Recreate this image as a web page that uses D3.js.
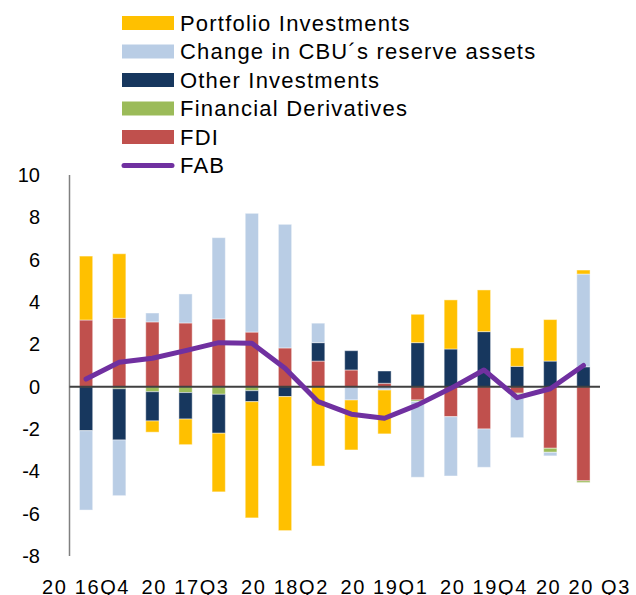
<!DOCTYPE html>
<html>
<head>
<meta charset="utf-8">
<style>
	body { margin: 0; background: #fff; font-family: "Liberation Sans", Arial, sans-serif; }
	svg { display: block; }
</style>
<title>Financial account balance</title>
</head>
<body>
<script src="https://cdn.jsdelivr.net/npm/d3@7"></script>
<script>

// quarters on the x axis
var quarters = ["2016Q4", "2017Q1", "2017Q2", "2017Q3", "2017Q4", "2018Q1", "2018Q2", "2018Q3",
	"2018Q4", "2019Q1", "2019Q2", "2019Q3", "2019Q4", "2020Q1", "2020Q2", "2020Q3"];

// labelled quarters and the text shown under them
var labelQuarters = ["2016Q4", "2017Q3", "2018Q2", "2019Q1", "2019Q4", "2020Q3"];
var labelTexts = ["20 16Q4", "20 17Q3", "20 18Q2", "20 19Q1", "20 19Q4", "20 20 Q3"];

var yTicks = [-8, -6, -4, -2, 0, 2, 4, 6, 8, 10];

// series values
var fdi         = [3.15, 3.23, 3.06, 3.01, 3.20, 2.58, 1.83, 1.21, 0.79, 0.16, -0.63, -1.42, -2.00, -0.31, -2.91, -4.45];
var derivatives = [0, -0.10, -0.24, -0.28, -0.36, -0.19, 0, 0, 0, 0, -0.07, 0, 0, -0.05, -0.19, -0.08];
var otherInv    = [-2.08, -2.42, -1.38, -1.25, -1.84, -0.52, -0.47, 0.87, 0.91, 0.58, 2.08, 1.78, 2.60, 0.96, 1.21, 0.94];
var reserves    = [-3.75, -2.63, 0.42, 1.37, 3.84, 5.61, 5.84, 0.92, -0.63, -0.16, -3.58, -2.80, -1.81, -2.05, -0.17, 4.38];
var portfolio   = [3.02, 3.05, -0.53, -1.21, -2.77, -5.49, -6.33, -3.75, -2.36, -2.07, 1.34, 2.32, 1.97, 0.87, 1.96, 0.19];
var fab         = [0.36, 1.15, 1.34, 1.70, 2.08, 2.05, 0.87, -0.71, -1.30, -1.49, -0.86, -0.08, 0.79, -0.52, -0.10, 1.00];

// stacking order is bottom-up; legend is shown top-down
var keys = ["fdi", "derivatives", "otherInv", "reserves", "portfolio"];
var names = {
	portfolio: "Portfolio Investments",
	reserves: "Change in CBU\u00b4s reserve assets",
	otherInv: "Other Investments",
	derivatives: "Financial Derivatives",
	fdi: "FDI"
};
var colors = {
	portfolio: "#ffc000",
	reserves: "#b9cde5",
	otherInv: "#17375e",
	derivatives: "#9bbb59",
	fdi: "#c0504d"
};
var fabColor = "#7030a0";

var table = quarters.map((q, i) => ({
	q: q,
	fdi: fdi[i],
	derivatives: derivatives[i],
	otherInv: otherInv[i],
	reserves: reserves[i],
	portfolio: portfolio[i],
	fab: fab[i]
}));

var width = 636, height = 595;

var x = d3.scaleBand()
	.domain(quarters)
	.range([69.5, 600])
	.paddingInner(0.6)
	.paddingOuter(0.3);

var y = d3.scaleLinear()
	.domain([-8, 10])
	.range([556, 175]);

var svg = d3.select("body").append("svg")
	.attr("width", width)
	.attr("height", height);

var series = d3.stack()
	.keys(keys)
	.offset(d3.stackOffsetDiverging)(table);

svg.append("g").selectAll("g")
	.data(series)
	.join("g")
		.attr("fill", s => colors[s.key])
	.selectAll("rect")
	.data(s => s)
	.join("rect")
		.attr("x", d => x(d.data.q))
		.attr("width", x.bandwidth())
		.attr("y", d => y(Math.max(d[0], d[1])))
		.attr("height", d => Math.abs(y(d[0]) - y(d[1])))
		.attr("stroke", "#fff")
		.attr("stroke-opacity", 0.45)
		.attr("stroke-width", 1);

// y axis: line and labels, no ticks
svg.append("line")
	.attr("x1", 69.5).attr("x2", 69.5)
	.attr("y1", y(10)).attr("y2", y(-8))
	.attr("stroke", "#808080")
	.attr("stroke-width", 1.5);

svg.append("g").selectAll("text")
	.data(yTicks)
	.join("text")
		.attr("x", 40)
		.attr("y", d => y(d))
		.attr("dy", "0.35em")
		.attr("text-anchor", "end")
		.attr("font-size", 20)
		.attr("fill", "#000")
		.text(d => d);

// zero line across the plot
svg.append("line")
	.attr("x1", 69.5).attr("x2", 600)
	.attr("y1", y(0)).attr("y2", y(0))
	.attr("stroke", "#404040")
	.attr("stroke-width", 2);

svg.append("path")
	.datum(table)
	.attr("fill", "none")
	.attr("stroke", fabColor)
	.attr("stroke-width", 5)
	.attr("stroke-linejoin", "round")
	.attr("stroke-linecap", "round")
	.attr("d", d3.line()
		.x(d => x(d.q) + x.bandwidth() / 2)
		.y(d => y(d.fab)));

// x labels (cut by the bottom edge as in the source)
svg.append("g").selectAll("text")
	.data(labelQuarters)
	.join("text")
		.attr("x", d => x(d) + x.bandwidth() / 2)
		.attr("y", 594)
		.attr("text-anchor", "middle")
		.attr("font-size", 20)
		.attr("letter-spacing", 1.6)
		.attr("fill", "#000")
		.text((d, i) => labelTexts[i]);

// legend
var legendKeys = ["portfolio", "reserves", "otherInv", "derivatives", "fdi", "fab"];
var legend = svg.append("g").selectAll("g")
	.data(legendKeys)
	.join("g")
		.attr("transform", (d, i) => `translate(0,${23 + i * 28.5})`);

legend.filter(d => d != "fab").append("rect")
	.attr("x", 122)
	.attr("y", -7)
	.attr("width", 52)
	.attr("height", 14)
	.attr("fill", d => colors[d]);

legend.filter(d => d == "fab").append("line")
	.attr("x1", 124).attr("x2", 172)
	.attr("stroke", fabColor)
	.attr("stroke-width", 5)
	.attr("stroke-linecap", "round");

legend.append("text")
	.attr("x", 180)
	.attr("dy", "0.36em")
	.attr("font-size", 22)
	.attr("letter-spacing", 1.2)
	.attr("fill", "#000")
	.text(d => d == "fab" ? "FAB" : names[d]);

</script>
</body>
</html>
